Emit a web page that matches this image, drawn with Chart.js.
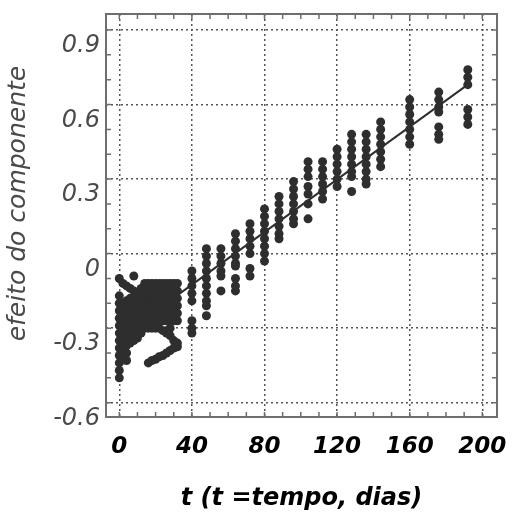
<!DOCTYPE html>
<html>
<head>
<meta charset="utf-8">
<script src="https://cdn.jsdelivr.net/npm/chart.js@4/dist/chart.umd.min.js"></script>
<style>
  html, body { margin: 0; padding: 0; background: #ffffff; }
  #wrap { width: 514px; height: 513px; }
</style>
</head>
<body>
<div id="wrap"><canvas id="c" width="514" height="513"></canvas></div>
<script>
// ---- data ----
const days = [0, 2, 4, 6, 8, 10, 12, 14, 16, 18, 20, 22, 24, 26, 28, 30, 32,
              40, 48, 56, 64, 72, 80, 88, 96, 104, 112, 120, 128, 136, 144, 160, 176, 192];
const effects = [
  [-0.10, -0.17, -0.20, -0.23, -0.26, -0.29, -0.32, -0.35, -0.38, -0.41, -0.44, -0.47, -0.50],
  [-0.12, -0.20, -0.23, -0.26, -0.29, -0.32, -0.35, -0.38, -0.41],
  [-0.13, -0.19, -0.22, -0.25, -0.28, -0.31, -0.34, -0.37, -0.40, -0.43],
  [-0.14, -0.18, -0.21, -0.24, -0.27, -0.30, -0.33, -0.36],
  [-0.09, -0.15, -0.18, -0.21, -0.24, -0.27, -0.30, -0.33, -0.35],
  [-0.16, -0.19, -0.22, -0.25, -0.28, -0.31, -0.34],
  [-0.14, -0.17, -0.20, -0.23, -0.26, -0.29, -0.32],
  [-0.12, -0.15, -0.18, -0.21, -0.24, -0.27, -0.30],
  [-0.12, -0.15, -0.18, -0.21, -0.24, -0.27, -0.30, -0.44],
  [-0.12, -0.15, -0.18, -0.21, -0.24, -0.27, -0.30, -0.43],
  [-0.12, -0.15, -0.18, -0.21, -0.24, -0.27, -0.30, -0.425],
  [-0.12, -0.15, -0.18, -0.21, -0.24, -0.27, -0.30, -0.415],
  [-0.12, -0.15, -0.18, -0.21, -0.24, -0.27, -0.31, -0.41],
  [-0.12, -0.15, -0.18, -0.21, -0.24, -0.27, -0.31, -0.32, -0.40],
  [-0.12, -0.15, -0.18, -0.21, -0.24, -0.27, -0.30, -0.33, -0.39],
  [-0.12, -0.15, -0.18, -0.21, -0.24, -0.27, -0.35, -0.38],
  [-0.12, -0.15, -0.18, -0.21, -0.24, -0.27, -0.36, -0.375],
  [-0.07, -0.10, -0.13, -0.16, -0.19, -0.27, -0.30, -0.32],
  [0.02, -0.01, -0.04, -0.07, -0.10, -0.13, -0.16, -0.19, -0.21, -0.25],
  [0.02, -0.01, -0.04, -0.07, -0.09, -0.15],
  [0.08, 0.05, 0.02, -0.01, -0.04, -0.05, -0.10, -0.13, -0.15],
  [0.12, 0.09, 0.06, 0.03, 0.00, -0.06, -0.09],
  [0.18, 0.15, 0.12, 0.09, 0.06, 0.03, 0.00, -0.03],
  [0.23, 0.20, 0.17, 0.14, 0.11, 0.08, 0.06],
  [0.29, 0.26, 0.23, 0.20, 0.17, 0.14, 0.12],
  [0.37, 0.34, 0.31, 0.27, 0.24, 0.20, 0.14],
  [0.37, 0.34, 0.31, 0.28, 0.25, 0.22],
  [0.42, 0.39, 0.36, 0.33, 0.30, 0.27],
  [0.48, 0.45, 0.42, 0.39, 0.36, 0.33, 0.31, 0.25],
  [0.48, 0.45, 0.42, 0.39, 0.36, 0.33, 0.30, 0.28],
  [0.53, 0.50, 0.47, 0.44, 0.41, 0.38, 0.35],
  [0.62, 0.59, 0.56, 0.53, 0.50, 0.47, 0.44],
  [0.65, 0.62, 0.59, 0.57, 0.51, 0.48, 0.46],
  [0.74, 0.71, 0.68, 0.58, 0.55, 0.52]
];
const lineDays = [30, 192];
const lineEffects = [-0.178, 0.68];

const xTicks = [0, 40, 80, 120, 160, 200];
const xTickLabels = ['0', '40', '80', '120', '160', '200'];
const yTicks = [-0.6, -0.3, 0, 0.3, 0.6, 0.9];
const yTickLabels = ['-0.6', '-0.3', '0', '0.3', '0.6', '0.9'];
const xTitle = 't (t =tempo, dias)';
const yTitle = '   efeito do componente';

// ---- build library structures ----
const points = [];
days.forEach((d, i) => effects[i].forEach(v => points.push({ x: d, y: v })));
const linePts = lineDays.map((d, i) => ({ x: d, y: lineEffects[i] }));

const framePlugin = {
  id: 'frame',
  afterDraw(chart) {
    const ctx = chart.ctx;
    const a = chart.chartArea;
    const xs = chart.scales.x, ys = chart.scales.y;
    ctx.save();
    ctx.strokeStyle = '#6e6e6e';
    ctx.lineWidth = 2;
    ctx.strokeRect(a.left, a.top, a.right - a.left, a.bottom - a.top);
    ctx.lineWidth = 1.5;
    ctx.beginPath();
    for (let d = 0; d <= 200; d += 10) {
      const px = xs.getPixelForValue(d);
      ctx.moveTo(px, a.bottom); ctx.lineTo(px, a.bottom - 5);
      ctx.moveTo(px, a.top); ctx.lineTo(px, a.top + 5);
    }
    for (let k = -6; k <= 9; k++) {
      const py = ys.getPixelForValue(k / 10);
      ctx.moveTo(a.left, py); ctx.lineTo(a.left + 5, py);
      ctx.moveTo(a.right, py); ctx.lineTo(a.right - 5, py);
    }
    ctx.stroke();
    ctx.restore();
  }
};

new Chart(document.getElementById('c'), {
  type: 'scatter',
  data: {
    datasets: [
      {
        data: points,
        pointRadius: 4.5,
        pointHoverRadius: 4.5,
        pointBackgroundColor: '#2e2e2e',
        pointBorderWidth: 0,
        showLine: false,
        order: 2
      },
      {
        data: linePts,
        showLine: true,
        borderColor: '#2e2e2e',
        borderWidth: 2,
        pointRadius: 0,
        fill: false,
        order: 1
      }
    ]
  },
  options: {
    responsive: false,
    animation: false,
    events: [],
    layout: { padding: { left: 0, top: 14, right: 17, bottom: 0 } },
    plugins: { legend: { display: false }, tooltip: { enabled: false } },
    scales: {
      x: {
        type: 'linear',
        min: -7.33,
        max: 208.1,
        afterBuildTicks: s => { s.ticks = xTicks.map(v => ({ value: v })); },
        afterFit: s => { s.height = 96; s.paddingLeft = 0; s.paddingRight = 0; },
        ticks: {
          callback: (v, i) => xTickLabels[i],
          color: '#000000',
          padding: 16,
          maxRotation: 0,
          autoSkip: false,
          font: { family: 'DejaVu Sans', size: 23, style: 'italic', weight: 'bold' }
        },
        grid: { color: '#555555', lineWidth: 1.5, drawTicks: false },
        border: { display: false, dash: [2, 3] },
        title: {
          display: true,
          text: xTitle,
          color: '#000000',
          padding: { top: 1, bottom: 0 },
          font: { family: 'DejaVu Sans', size: 24, style: 'italic', weight: 'bold' }
        }
      },
      y: {
        type: 'linear',
        min: -0.6576,
        max: 0.9644,
        afterBuildTicks: s => { s.ticks = yTicks.map(v => ({ value: v })); },
        afterFit: s => { s.width = 106; s.paddingTop = 0; s.paddingBottom = 0; },
        ticks: {
          callback: (v, i) => yTickLabels[i],
          color: '#4a4a4a',
          padding: 6,
          labelOffset: 16,
          autoSkip: false,
          font: { family: 'DejaVu Sans', size: 24, style: 'italic' }
        },
        grid: { color: '#555555', lineWidth: 1.5, drawTicks: false },
        border: { display: false, dash: [2, 3] },
        title: {
          display: true,
          text: yTitle,
          color: '#4a4a4a',
          padding: { top: 3, bottom: 0 },
          font: { family: 'DejaVu Sans', size: 25, style: 'italic' }
        }
      }
    }
  },
  plugins: [framePlugin]
});
</script>
</body>
</html>
